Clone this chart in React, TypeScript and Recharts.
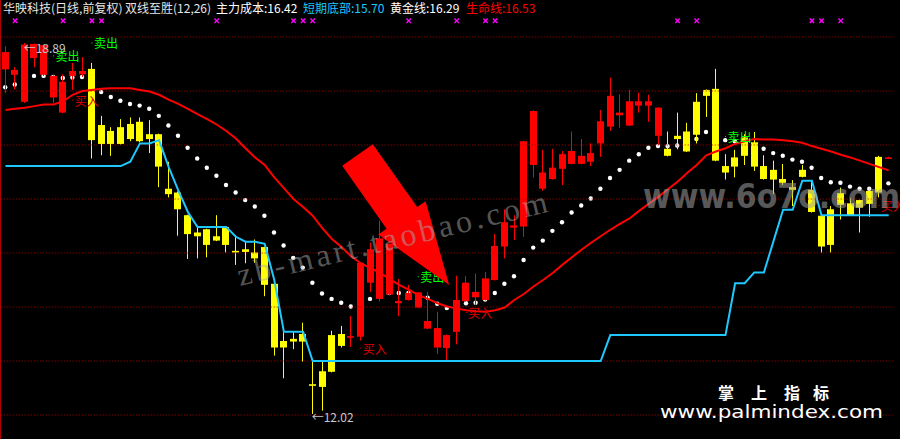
import { ComposedChart, Bar, Line, XAxis, YAxis, ReferenceLine } from 'recharts'

// 华映科技 daily K-line with the 双线至胜 indicator overlay

const WIDTH = 900
const HEIGHT = 439
const FONT = "'Noto Sans CJK SC', 'DejaVu Sans', sans-serif"

const RED = '#ff0000'
const YELLOW = '#ffff00'
const CYAN = '#1ec8ff'
const GREEN = '#00ff00'

const opens = [
  18.4, 18.3, 17.8, 18.61, 18.3, 17.88, 17.6, 18.28, 18.31, 18.41,
  17.37, 17.26, 17.33, 17.39, 17.43, 17.2, 17.2, 16.19, 16.12, 15.7,
  15.38, 15.44, 15.31, 15.48, 15.04, 15.07, 15.01, 15.11, 14.43, 13.37,
  13.41, 13.5, 12.57, 12.81, 13.48, 13.5, 13.43, 13.45, 14.45, 14.15,
  14.23, 14.07, 14.13, 13.99, 13.6, 13.25, 13.24, 13.54, 14.11, 14.18,
  14.13, 14.5, 15.12, 15.47, 15.49, 16.63, 16.19, 16.37, 16.56, 16.65,
  16.65, 16.69, 17.03, 17.34, 17.55, 17.36, 17.73, 17.73, 17.17, 16.93,
  17.17, 17.25, 17.8, 18.02, 18.04, 16.61, 16.77, 17.14, 17.05, 16.61,
  16.54, 16.37, 16.22, 16.54, 16.17, 15.69, 15.81, 16.11, 15.92, 15.98,
  16.15, 16.78, 16.77,
]
const closes = [
  18.72, 18.39, 18.86, 18.87, 18.85, 18.28, 18.17, 18.37, 18.37, 17.09,
  17.02, 17.02, 17.02, 17.11, 17.07, 17.11, 16.6, 16.09, 15.81, 15.35,
  15.31, 15.15, 15.23, 15.15, 15.01, 15.02, 14.9, 14.41, 13.25, 13.25,
  13.36, 13.36, 12.54, 12.52, 12.8, 13.28, 13.46, 14.82, 15.07, 15.27,
  15.17, 14.11, 14.26, 14.27, 13.74, 13.61, 13.48, 14.13, 14.45, 14.28,
  14.53, 15.13, 15.57, 15.51, 17.07, 17.63, 16.49, 16.58, 16.83, 16.89,
  16.8, 16.85, 17.44, 17.91, 17.6, 17.81, 17.81, 17.81, 17.69, 16.8,
  17.11, 16.88, 17.19, 17.91, 16.71, 16.49, 16.6, 16.8, 16.6, 16.37,
  16.36, 16.3, 16.17, 16.41, 15.76, 15.12, 15.15, 15.89, 15.7, 15.84,
  15.91, 16.12, 16.77,
]
const highs = [
  18.83, 18.44, 18.89, 18.88, 18.86, 18.29, 18.31, 18.52, 18.63, 18.52,
  17.54, 17.33, 17.48, 17.51, 17.51, 17.46, 17.21, 16.69, 16.14, 15.71,
  15.49, 15.45, 15.7, 15.49, 15.33, 15.21, 15.25, 15.12, 14.44, 13.57,
  13.54, 13.71, 12.99, 12.99, 13.56, 13.65, 13.83, 14.83, 15.19, 15.6,
  15.18, 14.52, 14.41, 14.28, 14.28, 13.91, 13.49, 14.58, 14.57, 14.62,
  14.65, 15.35, 15.81, 15.7, 17.08, 17.64, 16.91, 16.93, 16.89, 17.25,
  17.11, 17.03, 17.65, 18.25, 17.94, 18.02, 17.97, 17.93, 17.7, 17.25,
  17.6, 17.41, 17.96, 18.03, 18.41, 16.83, 16.91, 17.2, 17.24, 16.81,
  16.71, 16.65, 16.35, 16.63, 16.32, 15.7, 15.87, 16.21, 16.02, 15.99,
  16.21, 16.8, 16.78,
]
const lows = [
  17.96, 18.03, 17.78, 18.44, 18.28, 17.78, 17.59, 18.02, 18.26, 16.75,
  16.81, 16.8, 17.01, 17.07, 17.05, 16.85, 16.22, 16.03, 15.32, 14.89,
  14.9, 14.92, 15.22, 15.01, 14.78, 14.81, 14.82, 14.2, 13.1, 12.68,
  13.22, 12.99, 12.02, 12.08, 12.79, 13.25, 13.26, 13.38, 14.28, 14.1,
  14.22, 13.83, 14.12, 13.98, 13.59, 13.13, 13.02, 13.31, 14.1, 14.04,
  14.12, 14.49, 14.9, 15.24, 15.3, 16.4, 16.15, 16.36, 16.26, 16.64,
  16.64, 16.61, 16.78, 17.26, 17.32, 17.35, 17.6, 17.43, 17.0, 16.79,
  16.92, 16.87, 17.03, 17.52, 16.7, 16.36, 16.4, 16.63, 16.52, 16.36,
  16.09, 16.26, 15.87, 16.4, 15.75, 15.01, 15.01, 15.62, 15.69, 15.38,
  15.67, 16.03, 16.76,
]

// 黄金线 (white dots)
const goldLine = [
  18.07, 18.12, 18.2, 18.28, 18.28, 18.26, 18.24, 18.25, 18.26, 18.13,
  17.98, 17.89, 17.82, 17.76, 17.73, 17.67, 17.54, 17.36, 17.17, 16.95,
  16.75, 16.58, 16.43, 16.26, 16.12, 15.98, 15.86, 15.69, 15.38, 15.14,
  14.91, 14.73, 14.45, 14.25, 14.15, 14.08, 14.01, 14.07, 14.15, 14.22,
  14.26, 14.26, 14.26, 14.22, 14.17, 14.06, 13.98, 14.02, 14.07, 14.08,
  14.14, 14.26, 14.43, 14.57, 14.87, 15.1, 15.23, 15.41, 15.57, 15.75,
  15.88, 16.01, 16.19, 16.39, 16.54, 16.71, 16.83, 16.95, 16.98, 16.98,
  16.99, 17.06, 17.11, 17.24, 17.2, 17.09, 17.07, 17.04, 16.98, 16.93,
  16.85, 16.8, 16.73, 16.69, 16.58, 16.39, 16.31, 16.3, 16.23, 16.19,
  16.19, 16.26, 16.29,
]
// 生命线 (red line)
const lifeLine = [
  17.65, 17.67, 17.69, 17.72, 17.75, 17.75, 17.81, 17.93, 18.0, 18.02,
  18.04, 18.05, 18.05, 18.05, 18.02, 17.99, 17.93, 17.84, 17.76, 17.67,
  17.57, 17.48, 17.38, 17.26, 17.12, 16.94, 16.77, 16.63, 16.4, 16.2,
  16.0, 15.85, 15.69, 15.46, 15.26, 15.11, 14.94, 14.81, 14.72, 14.63,
  14.52, 14.41, 14.32, 14.22, 14.15, 14.07, 14.01, 13.97, 13.94, 13.92,
  13.91, 13.94, 13.99, 14.13, 14.24, 14.38, 14.5, 14.63, 14.78, 14.92,
  15.06, 15.19, 15.31, 15.43, 15.54, 15.64, 15.78, 15.91, 16.04, 16.18,
  16.32, 16.48, 16.63, 16.81, 16.88, 16.94, 17.02, 17.07, 17.11, 17.1,
  17.1, 17.09, 17.07, 17.04, 16.98, 16.93, 16.88, 16.82, 16.77, 16.71,
  16.65, 16.59, 16.53,
]
// 短期底部 (cyan step line)
const bottomLine = [
  16.61, 16.61, 16.61, 16.61, 16.61, 16.61, 16.61, 16.61, 16.61, 16.61,
  16.61, 16.61, 16.61, 16.69, 17.03, 17.03, 17.09, 16.59, 16.16, 15.76,
  15.48, 15.48, 15.48, 15.48, 15.3, 15.21, 15.21, 15.17, 14.5, 13.54,
  13.54, 13.54, 13.0, 13.0, 13.0, 13.0, 13.0, 13.0, 13.0, 13.0,
  13.0, 13.0, 13.0, 13.0, 13.0, 13.0, 13.0, 13.0, 13.0, 13.0,
  13.0, 13.0, 13.0, 13.0, 13.0, 13.0, 13.0, 13.0, 13.0, 13.0,
  13.0, 13.0, 13.0, 13.48, 13.48, 13.48, 13.48, 13.48, 13.48, 13.48,
  13.48, 13.48, 13.48, 13.48, 13.48, 13.48, 14.44, 14.44, 14.64, 14.64,
  15.22, 15.8, 15.8, 16.34, 16.34, 15.7, 15.7, 15.7, 15.7, 15.7,
  15.7, 15.7, 15.7,
]

const markBars = [2, 7, 10, 11, 23, 31, 32, 33, 43, 48, 51, 52, 71, 73, 85, 86, 88]
const markPrice = 19.3
const sellSignals = [
  { bar: 6, price: 18.65 },
  { bar: 10, price: 18.89 },
  { bar: 44, price: 14.56 },
  { bar: 76, price: 17.16 },
]
const buySignals = [
  { bar: 8, price: 17.83 },
  { bar: 38, price: 13.24 },
  { bar: 49, price: 13.9 },
  { bar: 92, price: 15.88 },
]
const priceTags = [
  { bar: 3, price: 18.81, text: '←18.89' },
  { bar: 33, price: 11.97, text: '←12.02' },
]
const gridPrices = [12, 13, 14, 15, 16, 17, 18, 19]
const priceDomain = [11.5556, 19.6852]

const rows = opens.map((o, k) => {
  const bar = k + 1
  const sell = sellSignals.find((s) => s.bar === bar)
  const buy = buySignals.find((s) => s.bar === bar)
  const tag = priceTags.find((s) => s.bar === bar)
  return {
    i: bar,
    o,
    c: closes[k],
    h: highs[k],
    l: lows[k],
    gold: goldLine[k],
    life: lifeLine[k],
    bottom: bottomLine[k],
    mark: markBars.includes(bar) ? markPrice : null,
    sell: sell ? sell.price : null,
    buy: buy ? buy.price : null,
    tag: tag ? tag.price : null,
    tagText: tag ? tag.text : '',
  }
})

function Candle(props: any) {
  const { x, y, width, height, payload } = props
  if (x == null || y == null || !payload) return <g />
  const top = Math.min(y, y + height)
  const bottom = Math.max(y, y + height)
  const { o, c, h, l } = payload
  const span = h - l
  const toY = (v: number) => (span === 0 ? top : top + ((h - v) / span) * (bottom - top))
  const color = c >= o ? RED : YELLOW
  const yo = toY(o)
  const yc = toY(c)
  const bodyTop = Math.min(yo, yc)
  const bodyH = Math.max(1.5, Math.abs(yo - yc))
  const cx = Math.floor(x + width / 2)
  return (
    <g>
      <rect x={cx} y={top} width={1} height={Math.max(1, bottom - top)} fill={color} />
      <rect x={Math.round(x)} y={bodyTop} width={Math.round(width)} height={bodyH} fill={color} />
    </g>
  )
}

// the dotted 黄金线 is drawn as a bar series (only its top point) so the candles cover it
function GoldDot(props: any) {
  const { x, y, width, height } = props
  if (x == null || y == null) return <g />
  const top = Math.min(y, y + height)
  return <circle cx={x + width / 2} cy={top} r={2.2} fill="#ffffff" />
}

const empty = (p: any, tag: string) => <g key={`${tag}-${p.index}`} />

const markDot = (p: any) =>
  p.cy == null || p.value == null ? (
    empty(p, 'm')
  ) : (
    <g key={`m-${p.index}`} stroke="#ff00ff" strokeWidth={1.4}>
      <line x1={p.cx - 2.2} y1={p.cy - 2.2} x2={p.cx + 2.2} y2={p.cy + 2.2} />
      <line x1={p.cx - 2.2} y1={p.cy + 2.2} x2={p.cx + 2.2} y2={p.cy - 2.2} />
    </g>
  )

const signalDot = (color: string, label: string, tag: string) => (p: any) =>
  p.cy == null || p.value == null ? (
    empty(p, tag)
  ) : (
    <g key={`${tag}-${p.index}`}>
      <rect x={p.cx - 0.5} y={p.cy - 0.5} width={1} height={1} fill={color} />
      <text x={p.cx + 2} y={p.cy} dominantBaseline="central" fill={color} fontSize={12} fontFamily={FONT}>
        {label}
      </text>
    </g>
  )

const tagDot = (p: any) =>
  p.cy == null || p.value == null ? (
    empty(p, 't')
  ) : (
    <text
      key={`t-${p.index}`}
      x={p.cx - 1}
      y={p.cy}
      dominantBaseline="central"
      fill="#c8c8c8"
      fontSize={12}
      fontFamily={FONT}
    >
      {p.payload.tagText}
    </text>
  )

function Overlay() {
  return (
    <svg
      width={WIDTH}
      height={HEIGHT}
      style={{ position: 'absolute', left: 0, top: 0, pointerEvents: 'none' }}
    >
      <rect x={0} y={0} width={1} height={HEIGHT} fill="#b00000" />
      <g fontFamily={FONT} fontSize={12}>
        <text x={3} y={13} fill="#e6e6e6">华映科技(日线,前复权)</text>
        <text x={125} y={13} fill="#e6e6e6">双线至胜(12,26)</text>
        <text x={216} y={13} fill="#ffffff">主力成本:16.42</text>
        <text x={303} y={13} fill={CYAN}>短期底部:15.70</text>
        <text x={390} y={13} fill="#ffffff">黄金线:16.29</text>
        <text x={466} y={13} fill={RED}>生命线:16.53</text>
      </g>
      <polygon
        points="342.2,165.8 372.8,144.2 417.2,207.1 425.6,201.2 449.2,284.9 378.2,234.6 386.6,228.7"
        fill={RED}
      />
      <text
        x={240}
        y={286}
        transform="rotate(-13.5 240 286)"
        fontFamily="'Liberation Serif', serif"
        fontSize={32}
        fill="#a8a8a8"
        opacity={0.5}
        textLength={318}
        lengthAdjust="spacing"
      >
        zb-mart.taobao.com
      </text>
      <text
        x={643}
        y={208}
        fontFamily="'DejaVu Sans', sans-serif"
        fontWeight="bold"
        fontSize={34}
        fill="#a0a0a0"
        opacity={0.55}
        textLength={257}
        lengthAdjust="spacingAndGlyphs"
      >
        www.6o7o.com
      </text>
      <g fontFamily={FONT} fontWeight="bold" fontSize={16} fill="#ffffff" textAnchor="middle">
        <text x={726} y={399}>掌</text>
        <text x={759} y={399}>上</text>
        <text x={792} y={399}>指</text>
        <text x={821} y={399}>标</text>
      </g>
      <text
        x={660}
        y={418}
        fontFamily="'DejaVu Sans', sans-serif"
        fontSize={18}
        fill="#ffffff"
        textLength={223}
        lengthAdjust="spacingAndGlyphs"
      >
        www.palmindex.com
      </text>
    </svg>
  )
}

export default function App() {
  return (
    <div
      style={{
        position: 'absolute',
        left: 0,
        top: 0,
        width: WIDTH,
        height: HEIGHT,
        background: '#000000',
        overflow: 'hidden',
      }}
    >
      <ComposedChart
        width={WIDTH}
        height={HEIGHT}
        data={rows}
        margin={{ top: 0, right: 6.5, bottom: 0, left: 0.7 }}
      >
        <XAxis xAxisId="k" dataKey="i" type="category" hide />
        <XAxis xAxisId="d" dataKey="i" type="category" hide />
        <YAxis type="number" domain={priceDomain} allowDataOverflow hide />
        {gridPrices.map((v) => (
          <ReferenceLine key={v} xAxisId="k" y={v} stroke="#b40000" strokeDasharray="1 2" />
        ))}
        <Bar
          xAxisId="d"
          dataKey="gold"
          barSize={7}
          shape={(p: any) => <GoldDot {...p} />}
          isAnimationActive={false}
        />
        <Bar
          xAxisId="k"
          dataKey={(d: any) => [d.l, d.h]}
          barSize={7}
          shape={(p: any) => <Candle {...p} />}
          isAnimationActive={false}
        />
        <Line
          xAxisId="k"
          dataKey="life"
          type="linear"
          stroke={RED}
          strokeWidth={2}
          dot={false}
          activeDot={false}
          isAnimationActive={false}
        />
        <Line
          xAxisId="k"
          dataKey="bottom"
          type="linear"
          stroke={CYAN}
          strokeWidth={2}
          dot={false}
          activeDot={false}
          isAnimationActive={false}
        />
        <Line
          xAxisId="k"
          dataKey="buy"
          stroke="none"
          dot={signalDot('#e00000', '买入', 'b')}
          activeDot={false}
          isAnimationActive={false}
        />
        <Line
          xAxisId="k"
          dataKey="mark"
          stroke="none"
          dot={markDot}
          activeDot={false}
          isAnimationActive={false}
        />
        <Line
          xAxisId="k"
          dataKey="sell"
          stroke="none"
          dot={signalDot(GREEN, '卖出', 's')}
          activeDot={false}
          isAnimationActive={false}
        />
        <Line
          xAxisId="k"
          dataKey="tag"
          stroke="none"
          dot={tagDot}
          activeDot={false}
          isAnimationActive={false}
        />
      </ComposedChart>
      <Overlay />
    </div>
  )
}
